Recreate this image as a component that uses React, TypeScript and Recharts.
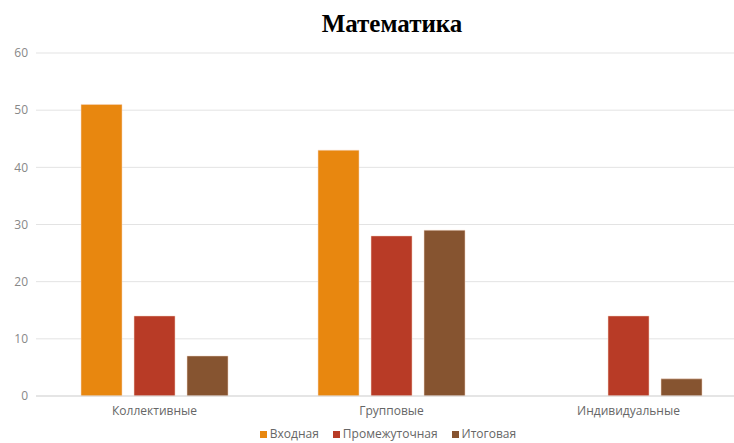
import React from "react";
import { BarChart, Bar, XAxis, YAxis, CartesianGrid } from "recharts";

const categories = ["Коллективные", "Групповые", "Индивидуальные"];
const vhodnaya = [51, 43, 0];
const promezh = [14, 28, 14];
const itog = [7, 29, 3];
const yTicks = [0, 10, 20, 30, 40, 50, 60];

const series = [
  { key: "v", name: "Входная", color: "#E8870F" },
  { key: "p", name: "Промежуточная", color: "#B83B26" },
  { key: "i", name: "Итоговая", color: "#865430" },
];

const data = categories.map((c, i) => ({
  name: c,
  v: vhodnaya[i],
  p: promezh[i],
  i: itog[i],
}));

const font = "'Open Sans', 'DejaVu Sans', sans-serif";

export default function App() {
  return (
    <div
      style={{
        position: "absolute",
        left: 0,
        top: 0,
        width: 734,
        height: 443,
        overflow: "hidden",
        background: "#fff",
      }}
    >
      <div
        style={{
          position: "absolute",
          top: 9,
          left: 0,
          width: 784,
          textAlign: "center",
          fontFamily: "'Liberation Serif', serif",
          fontWeight: "bold",
          fontSize: 25,
          lineHeight: "30px",
          color: "#000",
        }}
      >
        Математика
      </div>
      <BarChart
        width={748}
        height={443}
        data={data}
        margin={{ top: 53, right: 1, left: 0, bottom: 17 }}
        barCategoryGap="19%"
        barGap={12}
      >
        <CartesianGrid vertical={false} stroke="#e3e3e3" />
        <XAxis
          dataKey="name"
          height={30}
          tickLine={false}
          axisLine={{ stroke: "#d9d9d9" }}
          tick={{ fill: "#666", fontSize: 12, fontFamily: font }}
          tickMargin={4}
        />
        <YAxis
          width={36}
          domain={[0, 60]}
          ticks={yTicks}
          tickLine={false}
          axisLine={false}
          tick={{ fill: "#888", fontSize: 12, fontFamily: font }}
        />
        {series.map((s) => (
          <Bar
            key={s.key}
            dataKey={s.key}
            name={s.name}
            fill={s.color}
            stroke="#f4d9c8"
            strokeWidth={0.5}
            isAnimationActive={false}
          />
        ))}
      </BarChart>
      <div
        style={{
          position: "absolute",
          top: 426,
          left: 0,
          width: 776,
          display: "flex",
          justifyContent: "center",
          gap: 14,
          fontFamily: font,
          fontSize: 12,
          lineHeight: "16px",
          color: "#666",
        }}
      >
        {series.map((s) => (
          <span key={s.key} style={{ display: "flex", alignItems: "center" }}>
            <span
              style={{
                display: "inline-block",
                width: 7,
                height: 7,
                background: s.color,
                marginRight: 3,
              }}
            />
            {s.name}
          </span>
        ))}
      </div>
    </div>
  );
}
